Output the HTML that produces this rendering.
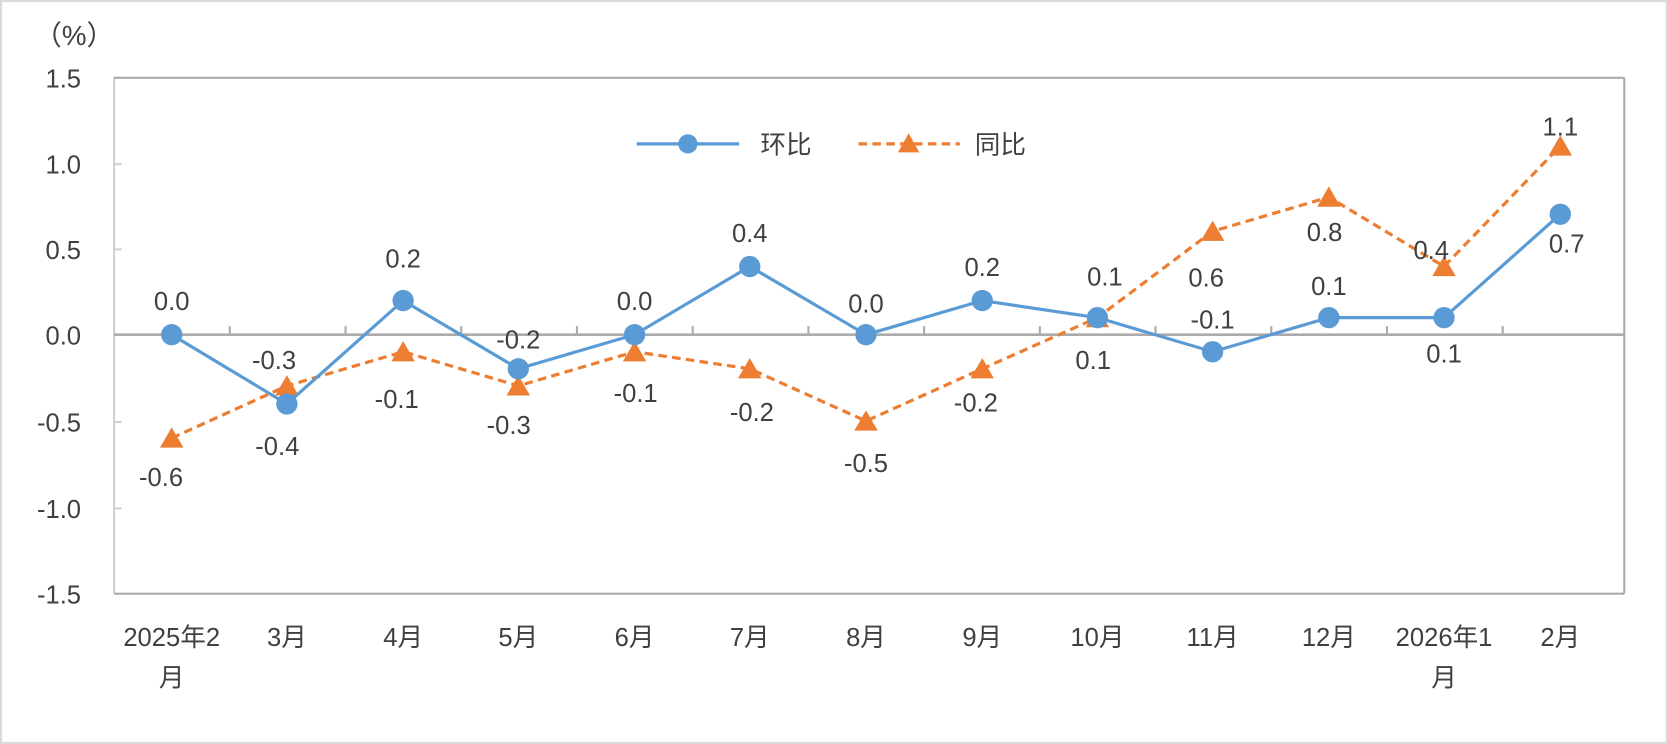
<!DOCTYPE html>
<html><head><meta charset="utf-8"><style>
html,body{margin:0;padding:0;background:#fff;}
svg{display:block;}
text{font-family:"Liberation Sans","Noto Sans CJK SC",sans-serif;fill:#404040;font-size:24px;}
</style></head><body>
<svg width="1668" height="744" viewBox="0 0 1564 698" preserveAspectRatio="none" xmlns="http://www.w3.org/2000/svg">
<rect x="1" y="1" width="1562" height="696" fill="#fff" stroke="#d9d9d9" stroke-width="2"/>
<text x="32" y="42" style="font-size:26px">（%）</text>
<g text-anchor="end">
<text x="76" y="82">1.5</text>
<text x="76" y="163">1.0</text>
<text x="76" y="243">0.5</text>
<text x="76" y="323">0.0</text>
<text x="76" y="405">-0.5</text>
<text x="76" y="486">-1.0</text>
<text x="76" y="566">-1.5</text>
</g>
<g stroke="#d0d0d0" stroke-width="2" fill="none">
<line x1="107" y1="73" x2="107" y2="557"/>
<line x1="107" y1="73" x2="114" y2="73"/><line x1="107" y1="154" x2="114" y2="154"/><line x1="107" y1="234" x2="114" y2="234"/><line x1="107" y1="396" x2="114" y2="396"/><line x1="107" y1="477" x2="114" y2="477"/>
</g>
<g stroke="#ababab" stroke-width="2" fill="none">
<line x1="107" y1="73" x2="1523" y2="73"/>
<line x1="1523" y1="73" x2="1523" y2="557"/>
<line x1="107" y1="557" x2="1523" y2="557"/>
<line x1="107" y1="314" x2="1523" y2="314" stroke-width="2.5"/>
<path d="M215.5 314v-8M324 314v-8M432.5 314v-8M541 314v-8M649.5 314v-8M758 314v-8M866.5 314v-8M975 314v-8M1083.5 314v-8M1192 314v-8M1300.5 314v-8M1409 314v-8"/>
</g>
<g text-anchor="middle">
<text x="161" y="606">2025年2</text><text x="161" y="644">月</text>
<text x="269" y="606">3月</text><text x="378" y="606">4月</text><text x="486" y="606">5月</text>
<text x="595" y="606">6月</text><text x="703" y="606">7月</text><text x="812" y="606">8月</text>
<text x="921" y="606">9月</text><text x="1029" y="606">10月</text><text x="1137" y="606">11月</text>
<text x="1246" y="606">12月</text><text x="1354" y="606">2026年1</text><text x="1354" y="644">月</text>
<text x="1463" y="606">2月</text>
</g>
<polyline fill="none" stroke="#ed7d31" stroke-width="3" stroke-dasharray="8,5" points="161,411 269,362 378,330 486,362 595,330 703,346 812,395 921,346 1029,298 1137,217 1246,185 1354,250 1463,137"/>
<g fill="#ed7d31">
<path d="M161,401l11,19h-22z"/><path d="M269,352l11,19h-22z"/><path d="M378,320l11,19h-22z"/><path d="M486,352l11,19h-22z"/><path d="M595,320l11,19h-22z"/><path d="M703,336l11,19h-22z"/><path d="M812,385l11,19h-22z"/><path d="M921,336l11,19h-22z"/><path d="M1029,288l11,19h-22z"/><path d="M1137,207l11,19h-22z"/><path d="M1246,175l11,19h-22z"/><path d="M1354,240l11,19h-22z"/><path d="M1463,127l11,19h-22z"/>
</g>
<polyline fill="none" stroke="#5b9bd5" stroke-width="3" points="161,314 269,379 378,282 486,346 595,314 703,250 812,314 921,282 1029,298 1137,330 1246,298 1354,298 1463,201"/>
<g fill="#5b9bd5">
<circle cx="161" cy="314" r="10"/><circle cx="269" cy="379" r="10"/><circle cx="378" cy="282" r="10"/><circle cx="486" cy="346" r="10"/><circle cx="595" cy="314" r="10"/><circle cx="703" cy="250" r="10"/><circle cx="812" cy="314" r="10"/><circle cx="921" cy="282" r="10"/><circle cx="1029" cy="298" r="10"/><circle cx="1137" cy="330" r="10"/><circle cx="1246" cy="298" r="10"/><circle cx="1354" cy="298" r="10"/><circle cx="1463" cy="201" r="10"/>
</g>
<g text-anchor="middle">
<text x="161" y="291">0.0</text><text x="260" y="427">-0.4</text><text x="378" y="251">0.2</text><text x="486" y="327">-0.2</text><text x="595" y="291">0.0</text><text x="703" y="227">0.4</text><text x="812" y="293">0.0</text><text x="921" y="259">0.2</text><text x="1036" y="268">0.1</text><text x="1137" y="308">-0.1</text><text x="1246" y="277">0.1</text><text x="1354" y="340">0.1</text><text x="1469" y="237">0.7</text>
<text x="151" y="456">-0.6</text><text x="257" y="346">-0.3</text><text x="372" y="383">-0.1</text><text x="477" y="407">-0.3</text><text x="596" y="377">-0.1</text><text x="705" y="395">-0.2</text><text x="812" y="443">-0.5</text><text x="915" y="386">-0.2</text><text x="1025" y="346">0.1</text><text x="1131" y="269">0.6</text><text x="1242" y="226">0.8</text><text x="1342" y="243">0.4</text><text x="1463" y="127">1.1</text>
</g>
<line x1="597" y1="135" x2="693" y2="135" stroke="#5b9bd5" stroke-width="3"/>
<circle cx="645" cy="135" r="9" fill="#5b9bd5"/>
<text x="713" y="144">环比</text>
<line x1="805" y1="135" x2="900" y2="135" stroke="#ed7d31" stroke-width="3" stroke-dasharray="8,5"/>
<path d="M852,125l10,18h-20z" fill="#ed7d31"/>
<text x="914" y="144">同比</text>
</svg>
</body></html>
